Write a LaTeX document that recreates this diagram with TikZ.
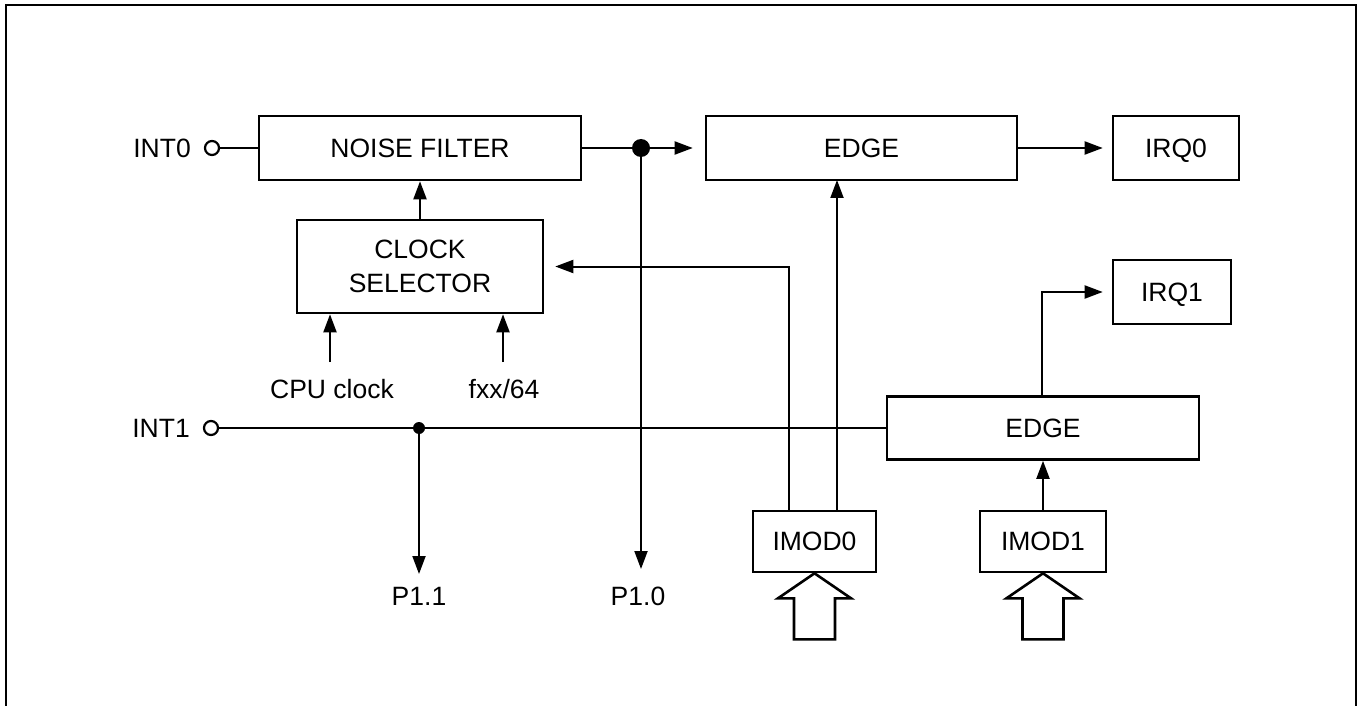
\documentclass[tikz,border=0pt]{standalone}
\usepackage{fontspec}
\setmainfont{Liberation Sans}
\usetikzlibrary{arrows.meta}
\begin{document}
\begin{tikzpicture}[x=1pt,y=-1pt,
  every node/.style={font=\fontsize{26.5}{34}\selectfont},
  blk/.style={draw,line width=2.6pt,inner sep=0pt,align=center},
  wire/.style={line width=2pt},
  arr/.style={wire,-{Triangle[length=18pt,width=13pt]}},
  dot/.style={circle,fill,inner sep=0pt},
  pin/.style={circle,draw,line width=2.2pt,inner sep=0pt,minimum size=14pt},
  lbl/.style={inner sep=0pt},
  hollow/.style={line width=2.6pt,line join=miter}]
\useasboundingbox (0,0) rectangle (1361,706);
\draw[line width=2.2pt] (6,706) -- (6,5) -- (1356,5) -- (1356,706);
% blocks
\node[blk,minimum width=322pt,minimum height=64pt] (noise) at (420,148) {NOISE FILTER};
\node[blk,minimum width=311pt,minimum height=64pt] (edge0) at (861.5,148) {EDGE};
\node[blk,text depth=0pt,minimum width=126pt,minimum height=64pt] (irq0) at (1176,148) {IRQ0};
\node[blk,minimum width=246pt,minimum height=93pt] (clk) at (420,266.5) {CLOCK\\[0pt]SELECTOR};
\node[blk,text depth=0pt,minimum width=118pt,minimum height=64pt] (irq1) at (1172,292) {IRQ1};
\node[blk,minimum width=312pt,minimum height=63pt] (edge1) at (1043,428) {EDGE};
\node[blk,minimum width=123pt,minimum height=61pt] (imod0) at (814.5,541.5) {IMOD0};
\node[blk,minimum width=126pt,minimum height=61pt] (imod1) at (1043,541.5) {IMOD1};
% pins and labels
\node[pin] (int0) at (212,148) {};
\node[lbl,anchor=east] (int0l) at (191,148) {INT0};
\node[pin] (int1) at (211,428) {};
\node[lbl,anchor=east] (int1l) at (190,428) {INT1};
\node[dot,minimum size=18pt] (j0) at (641,148) {};
\node[dot,minimum size=12pt] (j1) at (419,428) {};
\node[lbl] (p11) at (419,596) {P1.1};
\node[lbl] (p10) at (638,596) {P1.0};
\node[lbl] (cpu) at (332,389) {CPU clock};
\node[lbl] (fxx) at (504,389) {fxx/64};
\coordinate (p11t) at (419,574);
\coordinate (p10t) at (641,569);
\coordinate (cput) at (330,362);
\coordinate (fxxt) at (503,362);
% wires
\draw[wire] (int0) -- (noise.west);
\draw[wire] (noise.east) -- (j0);
\draw[arr,shorten >=12pt] (j0) -- (edge0.west);
\draw[arr,shorten >=9pt] (edge0.east) -- (irq0.west);
\draw[arr] (clk.north) -- (noise.south);
\draw[arr] (cput) -- (cput |- clk.south);
\draw[arr] (fxxt) -- (fxxt |- clk.south);
\draw[arr] (j0) -- (p10t);
\draw[wire] (int1) -- (edge1.west);
\draw[arr] (j1) -- (p11t);
\draw[arr,shorten >=11pt] (imod0.north -| 789,0) |- (clk.east);
\draw[arr] (imod0.north -| 837,0) -- (837,180);
\draw[arr] (imod1.north) -- (edge1.south);
\draw[arr,shorten >=9pt] (edge1.north -| 1042,0) |- (irq1.west);
% hollow input arrows
\foreach \b in {imod0,imod1}{
  \draw[hollow] (\b.south) -- ++(36.5,25) -- ++(-16,0) -- ++(0,41) -- ++(-41,0)
    -- ++(0,-41) -- ++(-16,0) -- cycle;
}
\end{tikzpicture}
\end{document}
